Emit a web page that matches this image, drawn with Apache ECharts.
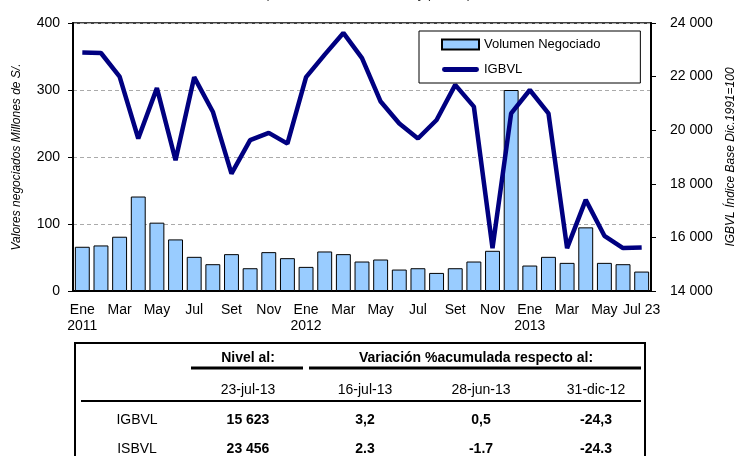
<!DOCTYPE html>
<html>
<head>
<meta charset="utf-8">
<script src="https://cdn.jsdelivr.net/npm/echarts@6.0.0/dist/echarts.min.js"></script>
<style>
  html, body { margin: 0; padding: 0; background: #fff; }
  #chart { width: 746px; height: 456px; }
</style>
</head>
<body>
<div id="chart"></div>
<script>
// meses Ene 2011 - Jul 2013
const categories = [
  'Ene\n2011', 'Feb', 'Mar', 'Abr', 'May', 'Jun', 'Jul', 'Ago', 'Set', 'Oct', 'Nov', 'Dic',
  'Ene\n2012', 'Feb', 'Mar', 'Abr', 'May', 'Jun', 'Jul', 'Ago', 'Set', 'Oct', 'Nov', 'Dic',
  'Ene\n2013', 'Feb', 'Mar', 'Abr', 'May', 'Jun', 'Jul 23'
]
// volumen negociado (millones de S/.)
const volumen = [
  66, 68, 81, 141, 102, 77, 51, 40, 55, 34, 58, 49,
  36, 59, 55, 44, 47, 32, 34, 27, 34, 44, 60, 300,
  38, 51, 42, 95, 42, 40, 29
]
// IGBVL
const igbvl = [
  22900, 22880, 22000, 19690, 21570, 18880, 21980, 20690, 18380, 19630, 19900, 19500,
  21980, 22820, 23630, 22690, 21070, 20250, 19690, 20380, 21690, 20880, 15600, 20630,
  21500, 20630, 15600, 17400, 16060, 15600, 15623
]
const leftTicks = [0, 400, 100]
const rightTicks = [14000, 24000, 2000]

// tabla
const tableHeaders = ['Nivel al:', 'Variación %acumulada respecto al:']
const tableDates = ['23-jul-13', '16-jul-13', '28-jun-13', '31-dic-12']
const rowLabels = ['IGBVL', 'ISBVL']
const rowValues = [
  ['15 623', '3,2', '0,5', '-24,3'],
  ['23 456', '2.3', '-1.7', '-24.3']
]

const FONT = 'Liberation Sans, Arial, sans-serif'
const colX = [248, 365, 481, 596]
const rowY = [420, 449]

const fmtMiles = v => String(v).replace(/\B(?=(\d{3})+(?!\d))/g, ' ')

const graphic = []
// titulo (cortado arriba)
graphic.push({
  type: 'text', x: 368, y: -12,
  style: { text: '(Millones de nuevos soles y puntos)', font: '13px ' + FONT, fill: '#333', textAlign: 'center' }
})
// marco de la tabla
graphic.push({
  type: 'rect', shape: { x: 75, y: 343, width: 570, height: 140 },
  style: { fill: '#fff', stroke: '#000', lineWidth: 2 }
})
graphic.push({ type: 'line', shape: { x1: 191, y1: 368, x2: 303, y2: 368 }, style: { stroke: '#000', lineWidth: 3 } })
graphic.push({ type: 'line', shape: { x1: 309, y1: 368, x2: 641, y2: 368 }, style: { stroke: '#000', lineWidth: 3 } })
graphic.push({ type: 'line', shape: { x1: 81, y1: 401, x2: 641, y2: 401 }, style: { stroke: '#000', lineWidth: 2 } })
graphic.push({
  type: 'text', x: colX[0], y: 358,
  style: { text: tableHeaders[0], font: 'bold 14px ' + FONT, fill: '#000', textAlign: 'center', textVerticalAlign: 'middle' }
})
graphic.push({
  type: 'text', x: 476, y: 358,
  style: { text: tableHeaders[1], font: 'bold 14px ' + FONT, fill: '#000', textAlign: 'center', textVerticalAlign: 'middle' }
})
tableDates.forEach((d, i) => {
  graphic.push({
    type: 'text', x: colX[i], y: 390,
    style: { text: d, font: '14px ' + FONT, fill: '#000', textAlign: 'center', textVerticalAlign: 'middle' }
  })
})
rowLabels.forEach((lab, r) => {
  graphic.push({
    type: 'text', x: 137, y: rowY[r],
    style: { text: lab, font: '14px ' + FONT, fill: '#000', textAlign: 'center', textVerticalAlign: 'middle' }
  })
  rowValues[r].forEach((v, i) => {
    graphic.push({
      type: 'text', x: colX[i], y: rowY[r],
      style: { text: v, font: 'bold 14px ' + FONT, fill: '#000', textAlign: 'center', textVerticalAlign: 'middle' }
    })
  })
})

const myChart = echarts.init(document.getElementById('chart'))
const option = {
  animation: false,
  backgroundColor: '#fff',
  textStyle: { fontFamily: FONT },
  grid: {
    left: 73, right: 95, top: 23, bottom: 165,
    show: true, borderColor: '#000', borderWidth: 1.5, backgroundColor: 'transparent'
  },
  legend: {
    orient: 'vertical',
    left: 419, top: 31,
    padding: [7, 40, 7, 22],
    itemGap: 12,
    itemWidth: 37, itemHeight: 10,
    backgroundColor: '#fff',
    borderColor: '#000', borderWidth: 1,
    textStyle: { fontSize: 13, color: '#000', fontFamily: FONT },
    data: [
      { name: 'Volumen Negociado', icon: 'rect' },
      { name: 'IGBVL', icon: 'path://M2,0 L35,0 A2.5,2.5 0 0 1 35,5 L2,5 A2.5,2.5 0 0 1 2,0 Z', itemStyle: { color: '#000080', borderWidth: 0 } }
    ]
  },
  xAxis: {
    type: 'category',
    data: categories,
    axisLine: { lineStyle: { color: '#000', width: 2 } },
    axisTick: { interval: 0, length: 5, lineStyle: { color: '#000', width: 1 } },
    axisLabel: { interval: 1, fontSize: 14, lineHeight: 16, color: '#000', margin: 11 }
  },
  yAxis: [
    {
      type: 'value',
      min: leftTicks[0], max: leftTicks[1], interval: leftTicks[2],
      name: 'Valores negociados Millones de S/.',
      nameLocation: 'middle', nameRotate: 90, nameGap: 50,
      nameTextStyle: { fontStyle: 'italic', fontSize: 12, color: '#000' },
      axisLine: { show: true, lineStyle: { color: '#000', width: 2 } },
      axisTick: { show: true, length: 5, lineStyle: { color: '#000' } },
      axisLabel: { fontSize: 14, color: '#000', margin: 13 },
      splitLine: { show: true, lineStyle: { color: '#aaa', type: [4, 3], width: 1 } }
    },
    {
      type: 'value',
      min: rightTicks[0], max: rightTicks[1], interval: rightTicks[2],
      name: 'IGBVL Índice Base Dic.1991=100',
      nameLocation: 'middle', nameRotate: 90, nameGap: 74,
      nameTextStyle: { fontStyle: 'italic', fontSize: 12, color: '#000' },
      axisLine: { show: true, lineStyle: { color: '#000', width: 2 } },
      axisTick: { show: true, length: 5, lineStyle: { color: '#000' } },
      axisLabel: { fontSize: 14, color: '#000', margin: 19, formatter: fmtMiles },
      splitLine: { show: false }
    }
  ],
  series: [
    {
      name: 'Volumen Negociado',
      type: 'bar',
      yAxisIndex: 0,
      barCategoryGap: '20%',
      itemStyle: { color: '#99ccff', borderColor: '#000', borderWidth: 1 },
      data: volumen
    },
    {
      name: 'IGBVL',
      type: 'line',
      yAxisIndex: 1,
      symbol: 'none',
      lineStyle: { color: '#000080', width: 4.5 },
      itemStyle: { color: '#000080' },
      data: igbvl
    }
  ],
  graphic: graphic
}
myChart.setOption(option)
</script>
</body>
</html>
